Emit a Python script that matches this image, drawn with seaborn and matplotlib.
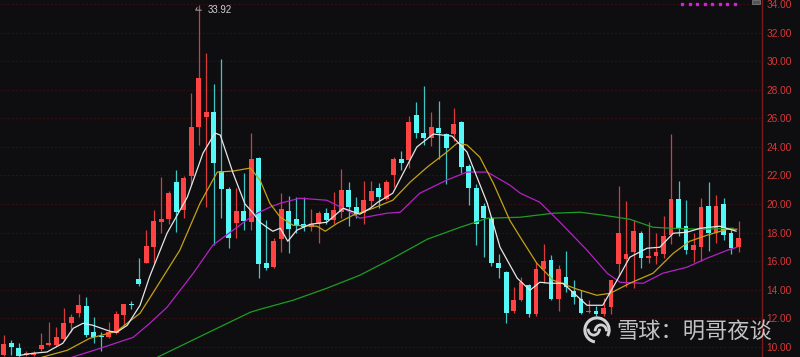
import matplotlib
matplotlib.use("Agg")
from matplotlib import pyplot as plt
from matplotlib.patches import Arc, Rectangle
import pandas as pd
import seaborn as sns
import numpy as np

# candles
opens = [9.44, 10.25, 9.93, 9.45, 9.44, 9.83, 10.14, 10.14, 10.56, 11.66,
         12.4, 12.87, 11.07, 10.77, 10.72, 10.96, 12.24, 12.95, 14.76, 15.9,
         17.02, 18.72, 18.95, 21.52, 19.58, 21.96, 25.41, 26.07, 26.42, 22.34,
         21.05, 18.65, 19.51, 18.77, 23.2, 15.85, 15.62, 17.53, 19.54, 18.93,
         18.6, 18.37, 18.6, 19.4, 18.88, 19.42, 20.98, 19.77, 19.35, 20.24,
         21.14, 20.33, 22.03, 23.13, 23.08, 26.23, 24.95, 24.6, 25.3, 24.9,
         24.9, 25.72, 22.68, 21.1, 19.86, 19.0, 15.85, 15.27, 12.54, 13.29,
         14.34, 12.31, 15.43, 16.09, 13.34, 14.87, 13.94, 13.34, 12.45, 12.52,
         12.3, 12.82, 15.78, 16.18, 16.67, 17.95, 16.25, 16.36, 16.5, 17.83,
         20.33, 18.48, 16.78, 16.98, 19.86, 18.0, 19.98, 18.0, 16.98]
highs = [10.84, 10.49, 10.25, 9.72, 9.7, 11.0, 11.77, 11.42, 12.7, 12.3,
         13.71, 13.47, 12.12, 11.07, 11.77, 12.5, 13.0, 13.24, 16.25, 18.18,
         19.58, 21.92, 20.9, 22.38, 21.97, 27.75, 33.92, 30.55, 28.38, 30.13,
         21.2, 21.1, 22.15, 24.99, 23.3, 18.88, 17.6, 20.8, 20.56, 20.52,
         20.5, 19.63, 19.5, 19.75, 20.82, 22.43, 21.56, 20.52, 21.61, 21.61,
         21.5, 21.7, 23.3, 23.74, 26.16, 27.16, 28.26, 26.46, 27.2, 25.0,
         26.74, 25.8, 22.8, 21.4, 20.1, 19.1, 16.48, 15.3, 14.17, 14.9,
         14.4, 15.97, 17.18, 16.45, 15.74, 16.74, 14.7, 14.0, 13.29, 12.9,
         13.45, 14.7, 21.29, 20.21, 18.88, 18.1, 18.77, 18.0, 19.16, 24.9,
         21.61, 20.28, 18.0, 20.45, 21.52, 20.63, 20.45, 18.2, 18.81]
lows = [9.35, 9.44, 9.3, 9.35, 9.35, 9.75, 10.05, 10.05, 10.45, 11.07,
        12.07, 10.7, 10.3, 9.74, 10.65, 10.9, 11.54, 12.64, 14.3, 15.85,
        15.9, 17.95, 18.6, 18.07, 19.0, 21.33, 24.13, 19.82, 17.14, 19.0,
        16.9, 17.6, 18.18, 18.2, 14.8, 15.4, 15.5, 16.67, 16.6, 18.0,
        18.1, 18.1, 17.3, 18.6, 18.6, 19.0, 18.45, 19.0, 18.6, 19.8,
        19.7, 20.3, 21.2, 22.4, 22.5, 24.6, 24.1, 24.06, 23.13, 21.38,
        24.4, 22.15, 19.93, 17.14, 16.32, 15.7, 14.8, 11.7, 12.4, 13.2,
        12.1, 12.2, 14.5, 13.3, 12.54, 13.87, 13.0, 12.3, 12.4, 12.2,
        12.2, 12.3, 14.97, 14.22, 14.1, 15.55, 15.9, 15.8, 16.2, 17.2,
        17.8, 16.5, 15.97, 16.0, 16.7, 17.3, 17.5, 16.5, 16.67]
closes = [10.21, 10.0, 9.35, 9.55, 9.6, 10.14, 10.25, 10.72, 11.66, 12.12,
          12.93, 10.84, 10.72, 10.68, 11.07, 12.28, 12.98, 12.92, 14.38, 17.06,
          18.81, 18.95, 20.8, 19.44, 21.82, 25.37, 28.8, 26.42, 22.85, 21.03,
          17.6, 19.54, 18.84, 23.13, 15.8, 15.55, 17.44, 19.63, 18.23, 18.51,
          18.42, 18.6, 19.4, 18.88, 19.58, 20.98, 19.77, 19.3, 20.28, 20.93,
          20.47, 21.57, 23.13, 22.85, 25.72, 24.99, 24.6, 25.41, 24.95, 23.9,
          25.6, 22.62, 21.1, 18.6, 19.0, 15.85, 15.5, 12.4, 13.29, 14.57,
          12.3, 15.43, 16.02, 13.34, 15.43, 14.22, 13.48, 12.4, 12.55, 12.3,
          12.7, 14.69, 18.0, 16.5, 18.14, 16.25, 16.35, 16.67, 17.76, 20.33,
          18.3, 16.78, 17.14, 19.82, 18.0, 19.86, 17.83, 16.9, 17.65]

# moving average lines, sampled (candle index, price)
ma5_x = [2.2, 3.9, 5.8, 7.9, 9.3, 10.6, 11.9, 14.2, 15.1, 16.5, 18.2, 19.5, 21.8,
         24.5, 26.6, 28.2, 28.9, 30.6, 32.2, 33.3, 34.2, 35.1, 35.9, 36.9, 37.9,
         39.1, 40.9, 43.1, 45.3, 47.5, 48.9, 49.9, 51.9, 53.3, 55.1, 57.3, 59.8,
         61.8, 64.5, 66.2, 68.5, 70.2, 71.5, 72.9, 74.6, 77.8, 79.9, 81.8, 83.5,
         85.8, 87.5, 89.3, 91.1, 92.9, 95.5, 97.7]
ma5_y = [9.42, 9.56, 9.65, 10.26, 11.31, 11.66, 11.52, 11.1, 11.03, 11.52, 12.92,
         14.95, 17.96, 20.48, 23.57, 24.97, 24.83, 22.17, 20.0, 19.36, 18.73,
         18.38, 18.1, 18.31, 17.4, 18.17, 18.59, 18.73, 19.71, 19.29, 19.71,
         20.13, 20.76, 22.17, 23.99, 24.9, 24.76, 23.64, 20.06, 16.98, 14.81,
         13.97, 14.53, 14.46, 14.46, 12.92, 12.92, 14.67, 16.28, 16.91, 16.98,
         17.96, 18.03, 18.31, 18.45, 18.1]
ma10_x = [5.1, 8.5, 11.5, 15.1, 18.2, 19.9, 23.5, 26.2, 28.5, 30.6, 32.9, 34.2,
          35.5, 36.9, 38.6, 41.8, 42.9, 44.5, 46.6, 49.3, 51.9, 54.2, 56.5, 59.1,
          60.5, 61.8, 63.5, 65.3, 67.5, 68.9, 71.1, 73.3, 76.5, 79.1, 80.9, 83.5,
          86.6, 89.3, 91.5, 93.8, 96.5, 97.8]
ma10_y = [9.28, 9.77, 10.61, 11.1, 12.36, 13.76, 16.77, 20.06, 22.24, 22.31,
          22.52, 21.68, 20.06, 19.08, 18.52, 18.45, 18.1, 18.66, 19.22, 19.71,
          20.27, 21.53, 22.59, 23.64, 24.27, 24.13, 23.29, 21.47, 18.87, 17.68,
          15.86, 14.67, 14.04, 13.62, 13.76, 14.46, 15.16, 16.56, 17.4, 17.82,
          18.24, 18.24]
ma20_x = [9.1, 12.9, 17.3, 19.5, 21.8, 25.3, 27.9, 30.6, 33.3, 35.5, 36.9, 39.5,
          43.1, 45.8, 47.5, 51.1, 52.9, 55.5, 59.1, 61.8, 64.5, 67.5, 68.9, 71.5,
          74.2, 77.8, 80.5, 82.2, 85.3, 87.9, 91.1, 93.8, 96.5, 97.8]
ma20_y = [9.28, 9.91, 10.68, 11.66, 12.78, 15.16, 17.12, 18.17, 19.22, 19.78,
          20.06, 20.41, 20.27, 19.57, 19.01, 19.36, 19.43, 20.76, 21.68, 22.24,
          22.24, 21.33, 20.76, 20.13, 18.73, 16.77, 15.16, 14.53, 14.46, 15.16,
          15.58, 16.21, 16.77, 16.98]
ma60_x = [20.5, 27.1, 32.9, 34.2, 38.6, 43.1, 47.5, 51.9, 56.5, 60.9, 64.5, 68.9,
          73.3, 76.9, 80.0, 83.5, 86.6, 88.9, 93.3, 97.3]
ma60_y = [9.28, 10.96, 12.43, 12.64, 13.27, 14.11, 15.02, 16.21, 17.54, 18.38,
          19.01, 19.08, 19.36, 19.43, 19.22, 18.94, 18.38, 18.31, 18.24, 18.31]

peak_label = "33.92"
yticks = [10, 12, 14, 16, 18, 20, 22, 24, 26, 28, 30, 32, 34]

BG = '#0e0e11'
UP = '#ff4343'
UP_WICK = '#d93a3a'
DOWN = '#55f7f7'
DOWN_WICK = '#3fc4c4'
W, H = 800, 357

sns.set_style("dark", {"axes.facecolor": BG, "figure.facecolor": BG})
plt.rcParams['font.family'] = ['DejaVu Sans']

df = pd.DataFrame({'open': opens, 'high': highs, 'low': lows, 'close': closes})
df['idx'] = np.arange(len(df))
df['up'] = df['close'] >= df['open']

fig = plt.figure(figsize=(W / 100, H / 100), dpi=100)
ax = fig.add_axes([0, 0, 762 / W, 1])
ax.set_facecolor(BG)

# grid
for v in yticks:
    ax.axhline(v, color='#3a0f12', lw=0.7, ls=(0, (2, 2)), zorder=0)

# wicks
for up, wc in [(True, UP_WICK), (False, DOWN_WICK)]:
    d = df[df['up'] == up]
    ax.vlines(d['idx'], d['low'], d['high'], color=wc, lw=0.9, zorder=2)

# bodies
for up, bc in [(True, UP), (False, DOWN)]:
    d = df[df['up'] == up]
    bottom = d[['open', 'close']].min(axis=1)
    height = np.maximum((d['close'] - d['open']).abs(), 0.08)
    ax.bar(d['idx'], height, bottom=bottom, width=0.66, color=bc, lw=0, zorder=3)

# moving averages
sns.lineplot(x=ma60_x, y=ma60_y, ax=ax, color='#1e9c24', lw=0.9, zorder=4)
sns.lineplot(x=ma20_x, y=ma20_y, ax=ax, color='#b421c4', lw=0.9, zorder=4)
sns.lineplot(x=ma10_x, y=ma10_y, ax=ax, color='#c2a312', lw=0.9, zorder=4)
sns.lineplot(x=ma5_x, y=ma5_y, ax=ax, color='#e6e6e6', lw=0.9, zorder=5)

# peak label
pk = int(np.argmax(highs))
ax.annotate(peak_label, xy=(pk, highs[pk]), xytext=(pk + 1.2, highs[pk] - 0.35),
            color='#d0d0d0', fontsize=7, va='center', ha='left',
            family=['Liberation Sans', 'DejaVu Sans'],
            arrowprops=dict(arrowstyle='-', color='#bbbbbb', lw=0.6,
                            connectionstyle='angle,angleA=0,angleB=60,rad=0'))

ax.set_xlim(-0.47, 101.13)
ax.set_ylim(9.30, 34.28)
ax.set_xticks([])
ax.yaxis.tick_right()
ax.set_yticks(yticks)
ax.set_yticklabels(['{:.2f}'.format(v) for v in yticks],
                   family=['Liberation Sans', 'DejaVu Sans'])
ax.tick_params(axis='y', length=0, pad=3, labelsize=7.3, labelcolor='#d83838')
for s in ['top', 'left', 'bottom']:
    ax.spines[s].set_visible(False)
ax.spines['right'].set_color('#7a1a1a')
ax.spines['right'].set_linewidth(1)
ax.grid(False)

# top legend markers
ax.plot(np.linspace(682, 735, 8) / 762, [1 - 4 / H] * 8, transform=ax.transAxes,
        ls='none', marker='s', ms=1.8, color='#d81ed8', clip_on=False, zorder=6)
fig.patches.append(Rectangle((752 / W, 1 - 4 / H), 8 / W, 4 / H,
                             transform=fig.transFigure, fc='#555555', ec='#888888', lw=0.5))

# watermark logo (small equal-aspect axes)
lx = fig.add_axes([583 / W, 1 - 344 / H, 28 / W, 28 / H])
lx.set_xlim(-1.1, 1.1)
lx.set_ylim(-1.1, 1.1)
lx.set_aspect('equal')
lx.axis('off')
wm = '#d2d2d2'
lx.add_patch(Arc((0, 0), 1.9, 1.9, theta1=-30, theta2=260, color=wm, lw=2.2))
lx.add_patch(Arc((-0.25, 0.1), 0.9, 1.0, theta1=180, theta2=360, color=wm, lw=2.0))
lx.add_patch(Arc((0.3, -0.1), 0.9, 1.0, theta1=0, theta2=180, color=wm, lw=2.0))

fig.text(616 / W, 1 - 331 / H, '雪球：明哥夜谈', color=wm, fontsize=16,
         ha='left', va='center', alpha=0.92, family=['Noto Sans CJK SC', 'DejaVu Sans'])

fig.savefig('out.png', dpi=100, facecolor=BG)
